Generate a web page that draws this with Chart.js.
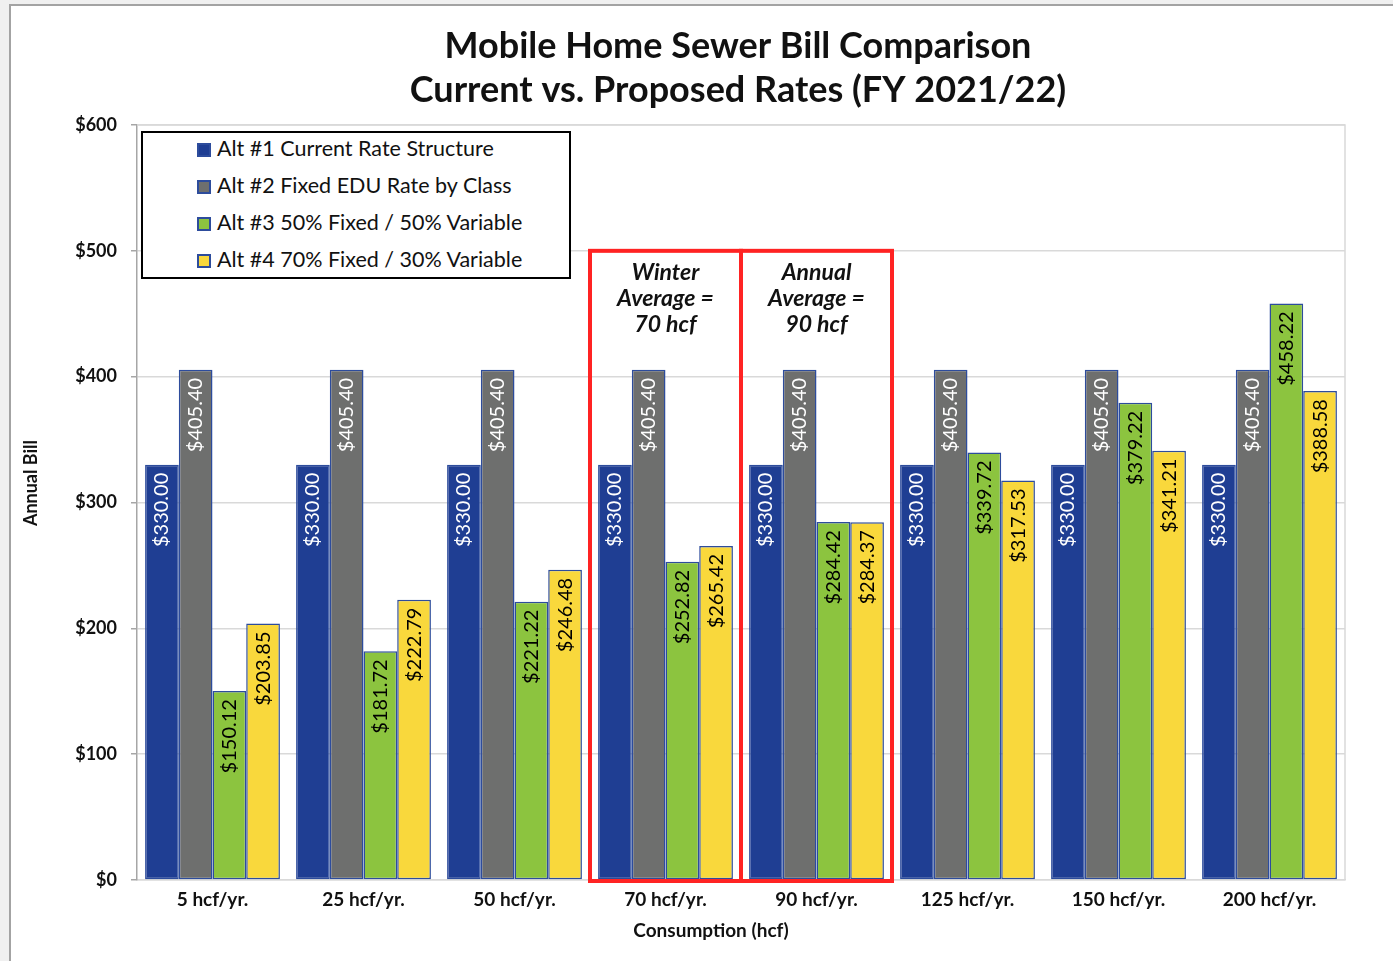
<!DOCTYPE html>
<html>
<head>
<meta charset="utf-8">
<title>Mobile Home Sewer Bill Comparison</title>
<script src="https://cdn.jsdelivr.net/npm/chart.js@4/dist/chart.umd.min.js"></script>
<style>
    html, body { margin: 0; padding: 0; background: #f0f0f0; overflow: hidden; width: 1393px; height: 961px; }
    #wrap {
        position: absolute; left: 9px; top: 4px;
        width: 1480px; height: 1000px;
        background: #fff; border: 2px solid #a3a3a3; box-sizing: border-box;
    }
    #c { position: absolute; left: 0; top: 0; }
    #legend {
        position: absolute; left: 130px; top: 125px;
        width: 430px; height: 148px; box-sizing: border-box;
        border: 2px solid #000; background: #fff;
        font-family: Lato, sans-serif; font-size: 21.5px; color: #111;
        padding-top: 0;
    }
    #legend .item { height: 37px; line-height: 37px; padding-left: 54px; white-space: nowrap; }
    #legend .item:first-child { margin-top: -3px; }
    #legend .box {
        display: inline-block; width: 10px; height: 10px; margin-right: 6px;
        border: 2px solid #2d4c9c; vertical-align: -1px;
    }
</style>
</head>
<body>
<div id="wrap">
    <canvas id="c" width="1456" height="955"></canvas>
    <div id="legend"></div>
</div>
<script>
// Chart data
const categories = ['5 hcf/yr.', '25 hcf/yr.', '50 hcf/yr.', '70 hcf/yr.', '90 hcf/yr.', '125 hcf/yr.', '150 hcf/yr.', '200 hcf/yr.'];
const seriesNames = ['Alt #1 Current Rate Structure', 'Alt #2 Fixed EDU Rate by Class', 'Alt #3 50% Fixed / 50% Variable', 'Alt #4 70% Fixed / 30% Variable'];
const alt1 = [330.00, 330.00, 330.00, 330.00, 330.00, 330.00, 330.00, 330.00];
const alt2 = [405.40, 405.40, 405.40, 405.40, 405.40, 405.40, 405.40, 405.40];
const alt3 = [150.12, 181.72, 221.22, 252.82, 284.42, 339.72, 379.22, 458.22];
const alt4 = [203.85, 222.79, 246.48, 265.42, 284.37, 317.53, 341.21, 388.58];
const yTicks = [0, 100, 200, 300, 400, 500, 600];

// Highlighted categories (index, text lines) and the value where the box starts
const highlights = [
    { index: 3, lines: ['Winter', 'Average =', '70 hcf'] },
    { index: 4, lines: ['Annual', 'Average =', '90 hcf'] }
];
const highlightTop = 500;

const titleLines = ['Mobile Home Sewer Bill Comparison', 'Current vs. Proposed Rates (FY 2021/22)'];
const xTitle = 'Consumption (hcf)';
const yTitle = 'Annual Bill';

const FONT = 'Lato, sans-serif';
const fills = ['#1f3e93', '#6e6f6e', '#8cc43f', '#f9d83c'];
const labelColors = ['#ffffff', '#ffffff', '#000000', '#000000'];

// Draws light gray frame around the plot area
const plotFrame = {
    id: 'plotFrame',
    beforeDatasetsDraw(chart) {
        const a = chart.chartArea;
        const ctx = chart.ctx;
        ctx.save();
        ctx.strokeStyle = '#d9d9d9';
        ctx.lineWidth = 1.5;
        ctx.beginPath();
        ctx.moveTo(a.left, a.top);
        ctx.lineTo(a.right, a.top);
        ctx.lineTo(a.right, a.bottom);
        ctx.stroke();
        ctx.restore();
    }
};

// Rotated value labels inside the top of each bar
const barLabels = {
    id: 'barLabels',
    afterDatasetsDraw(chart) {
        const ctx = chart.ctx;
        ctx.save();
        ctx.font = '20px ' + FONT;
        ctx.textAlign = 'right';
        ctx.textBaseline = 'middle';
        chart.data.datasets.forEach((ds, di) => {
            const meta = chart.getDatasetMeta(di);
            meta.data.forEach((bar, i) => {
                ctx.save();
                ctx.translate(bar.x, bar.y + 8);
                ctx.rotate(-Math.PI / 2);
                ctx.fillStyle = labelColors[di];
                ctx.fillText('$' + ds.data[i].toFixed(2), 0, 0);
                ctx.restore();
            });
        });
        ctx.restore();
    }
};

// Red boxes around the winter / annual average groups
const highlightBoxes = {
    id: 'highlightBoxes',
    afterDatasetsDraw(chart) {
        const ctx = chart.ctx;
        const x = chart.scales.x;
        const y = chart.scales.y;
        const slot = (x.right - x.left) / categories.length;
        ctx.save();
        highlights.forEach(h => {
            const cx = x.getPixelForValue(h.index);
            const top = y.getPixelForValue(highlightTop);
            const bottom = y.getPixelForValue(0) + 1;
            ctx.strokeStyle = '#ff2323';
            ctx.lineWidth = 4;
            ctx.strokeRect(cx - slot / 2, top, slot, bottom - top);

            ctx.fillStyle = '#111';
            ctx.font = 'italic bold 23px ' + FONT;
            ctx.textAlign = 'center';
            ctx.textBaseline = 'middle';
            h.lines.forEach((line, li) => {
                ctx.fillText(line, cx, top + 22 + li * 26);
            });
        });
        ctx.restore();
    }
};

// Chart title and axis titles placed like the original (not centered on the axes)
const titles = {
    id: 'titles',
    afterDraw(chart) {
        const ctx = chart.ctx;
        ctx.save();
        ctx.fillStyle = '#111';
        ctx.textAlign = 'center';
        ctx.textBaseline = 'middle';
        ctx.font = 'bold 36px ' + FONT;
        titleLines.forEach((line, i) => ctx.fillText(line, 727, 40 + i * 44));

        ctx.font = 'bold 19px ' + FONT;
        ctx.fillText(xTitle, 700, 925);
        ctx.translate(20, 477);
        ctx.rotate(-Math.PI / 2);
        ctx.font = 'bold 18px ' + FONT;
        ctx.fillText(yTitle, 0, 0);
        ctx.restore();
    }
};

function buildDatasets() {
    return [alt1, alt2, alt3, alt4].map((values, i) => ({
        label: seriesNames[i],
        data: values,
        backgroundColor: fills[i],
        borderColor: '#2d4c9c',
        borderWidth: 1.5,
        borderSkipped: false,
        categoryPercentage: 0.893,
        barPercentage: 1.0
    }));
}

// Simple HTML legend built from the chart datasets
function buildLegend(chart) {
    const el = document.getElementById('legend');
    el.innerHTML = chart.data.datasets.map(ds =>
        `<div class="item"><span class="box" style="background:${ds.backgroundColor}"></span>${ds.label}</div>`
    ).join('');
}

const chart = new Chart(document.getElementById('c'), {
    type: 'bar',
    data: {
        labels: categories,
        datasets: buildDatasets()
    },
    plugins: [plotFrame, barLabels, highlightBoxes, titles],
    options: {
        responsive: false,
        animation: false,
        layout: { padding: { left: 0, right: 122, top: 119, bottom: 41 } },
        plugins: {
            legend: { display: false },
            tooltip: { enabled: false },
            title: { display: false }
        },
        scales: {
            x: {
                afterFit: (scale) => { scale.height = 40; },
                grid: { display: false, drawTicks: false },
                border: { color: '#d9d9d9', width: 1.5 },
                ticks: {
                    padding: 8,
                    color: '#111',
                    font: { family: FONT, size: 19, weight: 'bold' }
                }
            },
            y: {
                min: 0,
                max: 600,
                afterFit: (scale) => { scale.width = 126; },
                afterBuildTicks: (scale) => { scale.ticks = yTicks.map(v => ({ value: v })); },
                grid: { color: '#d9d9d9', lineWidth: 1.5, tickLength: 6, tickColor: '#a6a6a6' },
                border: { color: '#a6a6a6', width: 1.5 },
                ticks: {
                    padding: 14,
                    color: '#111',
                    font: { family: FONT, size: 18, weight: 'bold' },
                    callback: (v) => '$' + v
                }
            }
        }
    }
});

buildLegend(chart);
</script>
</body>
</html>
